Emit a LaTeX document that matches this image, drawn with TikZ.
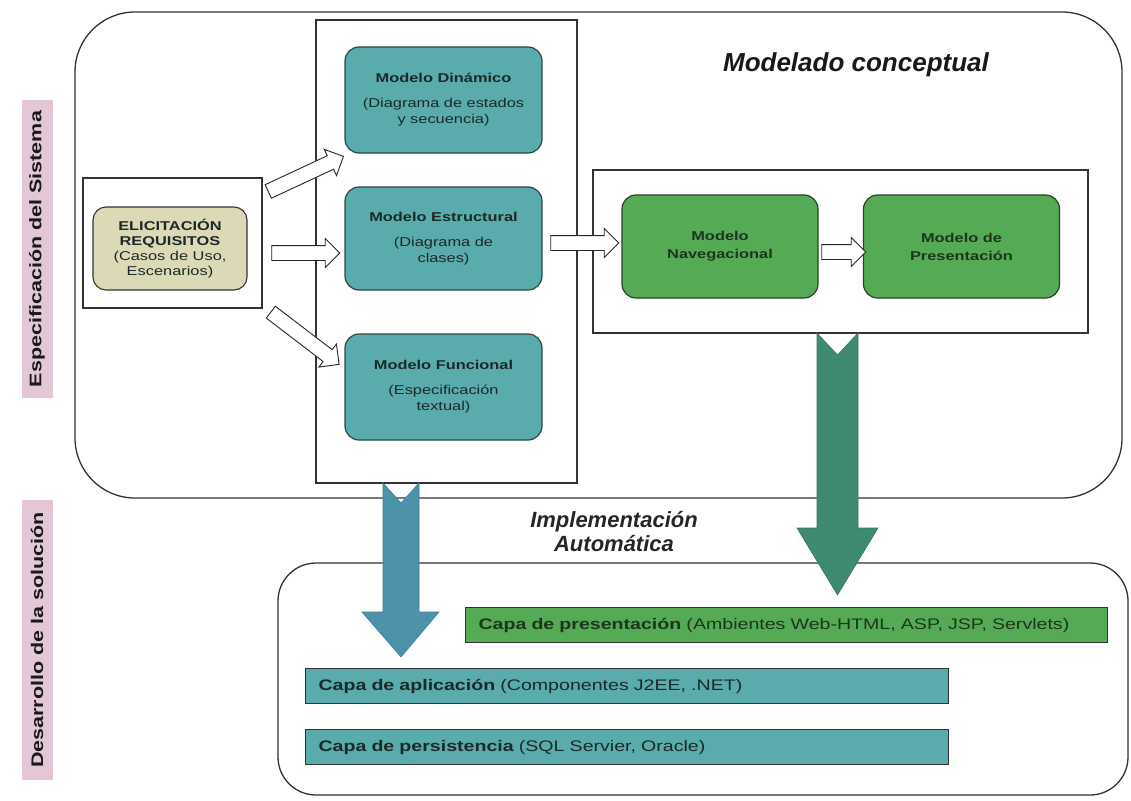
\documentclass[tikz,border=0pt]{standalone}
\usepackage{fontspec}
\setmainfont{Liberation Sans}
\newfontfamily\wf[FakeStretch=1.28]{Liberation Sans}
\usetikzlibrary{shapes.arrows}
\definecolor{tealfill}{HTML}{5AABAB}
\definecolor{tealline}{HTML}{2E4747}
\definecolor{grnfill}{HTML}{55AA55}
\definecolor{grnline}{HTML}{264426}
\definecolor{beige}{HTML}{DCD9B6}
\definecolor{pinkstrip}{HTML}{E4C7D6}
\definecolor{bluearrow}{HTML}{4C93AA}
\definecolor{greenarrow}{HTML}{3F8B6F}
\definecolor{txtdark}{HTML}{1C2929}
\definecolor{txtgrn}{HTML}{1C361C}
\definecolor{frame}{HTML}{333333}
\begin{document}
\begin{tikzpicture}[x=1pt,y=-1pt,
  bigframe/.style={draw=frame, line width=1.3pt},
  plainbox/.style={draw=frame, fill=white, line width=1.2pt, inner sep=0pt},
  tealbox/.style={draw=tealline, fill=tealfill, rounded corners=14pt, line width=1.2pt,
     minimum width=197pt, align=center, text=txtdark, inner sep=0pt,
     font=\wf\fontsize{12.8}{16}\selectfont},
  grnbox/.style={draw=grnline, fill=grnfill, rounded corners=14pt, line width=1.2pt,
     minimum width=196pt, minimum height=103pt, align=center, text=txtgrn, inner sep=0pt,
     font=\wf\fontsize{12.8}{18}\selectfont},
  harrow/.style={single arrow, draw=black!85, fill=white, line width=0.9pt,
     inner xsep=0pt, inner ysep=7pt, single arrow head extend=7pt,
     single arrow head indent=0pt, minimum width=28pt, sloped, pos=0.5},
  barbox/.style={draw=black!80, line width=1.1pt, anchor=north west, inner xsep=13pt,
     inner ysep=0pt, minimum height=35pt, align=left,
     font=\wf\fontsize{15.3}{18}\selectfont},
  sidelabel/.style={fill=pinkstrip, rotate=90, minimum height=31pt, inner sep=0pt,
     text=black!90, font=\wf\fontsize{16.8}{20}\selectfont\bfseries},
]
\useasboundingbox (0,0) rectangle (1131,800);

% outer frames
\draw[bigframe, rounded corners=60pt] (75,12) rectangle (1122,498);
\draw[bigframe, rounded corners=38pt] (278,563) rectangle (1128,795);

% side labels
\node[sidelabel, minimum width=298pt] (lab1) at (37,249) {Especificación del Sistema};
\node[sidelabel, minimum width=280pt] (lab2) at (37,640) {Desarrollo de la solución};

% titles
\node[font=\fontsize{26}{30}\selectfont\bfseries\itshape, text=black!90] (title) at (856,65) {Modelado conceptual};
\node[font=\fontsize{22}{24}\selectfont\bfseries\itshape, text=black!85, align=center] (impl) at (614,532) {Implementación\\Automática};

% elicitation
\node[plainbox, minimum width=179pt, minimum height=130pt] (elout) at (172.5,243) {};
\node[draw=black!80, fill=beige, rounded corners=13pt, line width=1.1pt, minimum width=154pt,
  minimum height=83pt, inner sep=0pt, align=center, text=txtdark,
  font=\wf\fontsize{12.8}{15}\selectfont] (elicit) at (170,248.5)
  {{\bfseries ELICITACIÓN}\\{\bfseries REQUISITOS}\\(Casos de Uso,\\Escenarios)};

% middle box with models
\node[plainbox, minimum width=261pt, minimum height=463pt] (midbox) at (446.5,251.5) {};
\node[tealbox, minimum height=106pt] (din) at (443.5,100)
  {{\bfseries Modelo Dinámico}\\[9pt](Diagrama de estados\\y secuencia)};
\node[tealbox, minimum height=103pt] (est) at (443.5,238.5)
  {{\bfseries Modelo Estructural}\\[9pt](Diagrama de\\clases)};
\node[tealbox, minimum height=106pt] (fun) at (443.5,387)
  {{\bfseries Modelo Funcional}\\[9pt](Especificación\\textual)};

% right box
\node[plainbox, minimum width=495pt, minimum height=163pt] (rbox) at (840.5,251.5) {};
\node[grnbox] (nav) at (720,246.5) {{\bfseries Modelo}\\{\bfseries Navegacional}};
\node[grnbox] (pres) at (961.5,246.5) {{\bfseries Modelo de}\\{\bfseries Presentación}};

% hollow arrows
\coordinate (u1) at (265,193); \coordinate (u2) at (340,158);
\coordinate (h1) at (268,253); \coordinate (h2) at (336,253);
\coordinate (d1) at (268,310); \coordinate (d2) at (336,362);
\coordinate (m1) at (547,243); \coordinate (m2) at (615,243);
\coordinate (n1) at (818,252); \coordinate (n2) at (862,252);
\path (u1) -- (u2) node[harrow, minimum height=83pt] (au) {};
\path (h1) -- (h2) node[harrow, minimum height=68pt] (ah) {};
\path (d1) -- (d2) node[harrow, minimum height=86pt] (ad) {};
\path (m1) -- (m2) node[harrow, minimum height=68pt] (am) {};
\path (n1) -- (n2) node[harrow, minimum height=44pt] (an) {};

% big arrows
\filldraw[fill=bluearrow, draw=bluearrow!85!black, line width=0.6pt]
  (383,483) -- (401,503) -- (419,483) -- (419,612) -- (439,612) -- (401,657)
  -- (362,612) -- (383,612) -- cycle;
\filldraw[fill=greenarrow, draw=greenarrow!85!black, line width=0.6pt]
  (817,333) -- (837.5,355) -- (858,333) -- (858,528) -- (878,528) -- (837.5,595)
  -- (797,528) -- (817,528) -- cycle;

% bars
\node[barbox, fill=grnfill, text width=616pt, text=txtgrn] (bpres) at (465,607)
  {{\bfseries Capa de presentación} (Ambientes Web-HTML, ASP, JSP, Servlets)};
\node[barbox, fill=tealfill, text width=617pt, text=txtdark] (bapl) at (305,668)
  {{\bfseries Capa de aplicación} (Componentes J2EE, .NET)};
\node[barbox, fill=tealfill, text width=617pt, text=txtdark] (bper) at (305,729)
  {{\bfseries Capa de persistencia} (SQL Servier, Oracle)};
\end{tikzpicture}
\end{document}
